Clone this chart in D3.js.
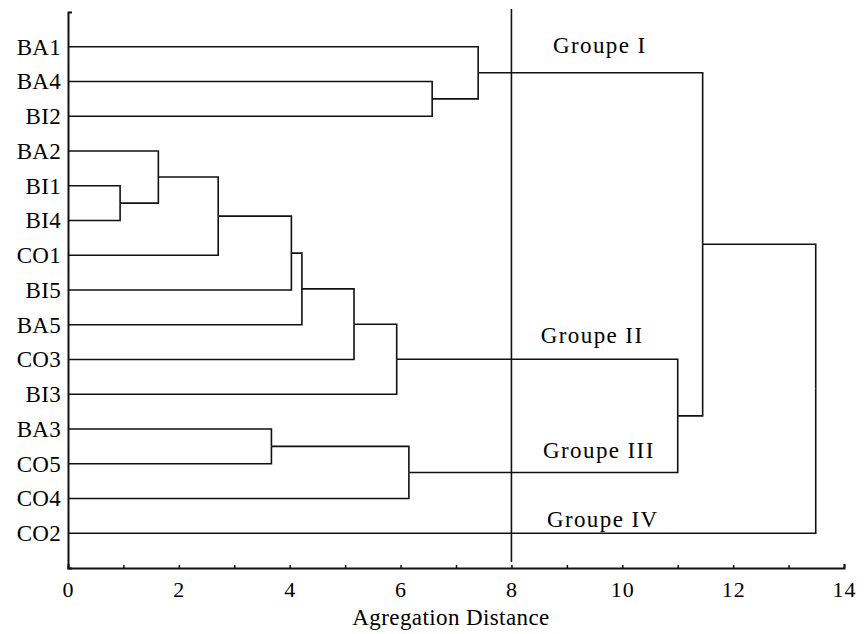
<!DOCTYPE html>
<html>
<head>
<meta charset="utf-8">
<script src="https://cdn.jsdelivr.net/npm/d3@7"></script>
<style>
  body { margin: 0; background: #fff; }
  text { font-family: "Liberation Serif", "DejaVu Serif", serif; fill: #000; }
</style>
</head>
<body>
<svg id="chart" width="864" height="634"></svg>
<script>
(function() {

  'use strict';

  // leaves, top to bottom
  var leaves = ['BA1','BA4','BI2','BA2','BI1','BI4','CO1','BI5','BA5','CO3','BI3','BA3','CO5','CO4','CO2'];

  // merges: left child, right child, aggregation distance (cluster ids are c1, c2 ...)
  var mergeIds    = ['c1','c2','c3','c4','c5','c6','c7','c8','c9','c10','c11','c12','c13','c14'];
  var mergeLeft   = ['BI1','BA2','c2','BA3','c3','c5','c6','c7','c4','BA4','BA1','c8','c11','c13'];
  var mergeRight  = ['BI4','c1','CO1','CO5','BI5','BA5','CO3','BI3','CO4','BI2','c10','c9','c12','CO2'];
  var mergeHeight = [0.94, 1.63, 2.71, 3.67, 4.03, 4.22, 5.16, 5.93, 6.15, 6.57, 7.40, 11.0, 11.45, 13.49];

  var cutLevel = 8;

  var groupNames = ['Groupe I','Groupe II','Groupe III','Groupe IV'];
  var groupX     = [8.75, 8.53, 8.57, 8.64];
  var groupY     = [0.18, 8.53, 11.83, 13.82];

  var xTicks = d3.range(0, 15, 1);

  var svg = d3.select('#chart');
  var strokeColor = '#111';

  var x = d3.scaleLinear().domain([0, 14]).range([68, 844]);
  var y = d3.scaleLinear().domain([-1, 15]).range([12, 568]);

  // node positions
  var pos = {};
  leaves.forEach(function(name, i) { pos[name] = {x: 0, y: i}; });
  mergeIds.forEach(function(id, i) {
    var a = pos[mergeLeft[i]], b = pos[mergeRight[i]];
    pos[id] = {x: mergeHeight[i], y: (a.y + b.y) / 2};
  });

  var links = [];
  mergeIds.forEach(function(id, i) {
    [mergeLeft[i], mergeRight[i]].forEach(function(child) {
      links.push({parent: pos[id], child: pos[child]});
    });
  });

  svg.append('g').selectAll('path').data(links).enter().append('path')
    .attr('d', function(d) {
      return 'M' + x(d.child.x) + ',' + y(d.child.y) +
             'H' + x(d.parent.x) + 'V' + y(d.parent.y);
    })
    .attr('fill', 'none')
    .attr('stroke', strokeColor)
    .attr('stroke-width', 1.6);

  // cut line
  svg.append('line')
    .attr('x1', x(cutLevel)).attr('x2', x(cutLevel))
    .attr('y1', 9).attr('y2', 562)
    .attr('stroke', strokeColor)
    .attr('stroke-width', 1.6);

  // axes
  var xAxis = d3.axisBottom(x).tickValues(xTicks)
    .tickSize(-3).tickSizeOuter(-4).tickPadding(13)
    .tickFormat(function(d) { return d % 2 === 0 ? d : ''; });

  var gx = svg.append('g').attr('transform', 'translate(0,' + 568 + ')').call(xAxis);
  gx.select('.domain').attr('stroke', strokeColor).attr('stroke-width', 2);
  gx.selectAll('.tick line').attr('stroke', strokeColor).attr('stroke-width', 1.5);
  gx.selectAll('.tick text')
    .style('font-family', '"Liberation Serif", serif')
    .style('font-size', '22px')
    .style('letter-spacing', '1px')
    .attr('fill', '#000');

  var yAxis = d3.axisLeft(y).tickValues([]).tickSizeOuter(-4);
  var gy = svg.append('g').attr('transform', 'translate(' + 68 + ',0)').call(yAxis);
  gy.select('.domain').attr('stroke', strokeColor).attr('stroke-width', 2);

  // leaf labels
  svg.append('g').selectAll('text').data(leaves).enter().append('text')
    .attr('x', 61)
    .attr('y', function(d, i) { return y(i); })
    .attr('dy', '0.34em')
    .attr('text-anchor', 'end')
    .style('font-size', '23px')
    .style('letter-spacing', '0.3px')
    .text(function(d) { return d; });

  // group labels
  svg.append('g').selectAll('text').data(groupNames).enter().append('text')
    .attr('x', function(d, i) { return x(groupX[i]); })
    .attr('y', function(d, i) { return y(groupY[i]); })
    .style('font-size', '23px')
    .style('letter-spacing', '1.4px')
    .text(function(d) { return d; });

  // axis title
  svg.append('text')
    .attr('x', 451)
    .attr('y', 625)
    .attr('text-anchor', 'middle')
    .style('font-size', '23px')
    .style('letter-spacing', '0.4px')
    .text('Agregation Distance');

})();
</script>
</body>
</html>
